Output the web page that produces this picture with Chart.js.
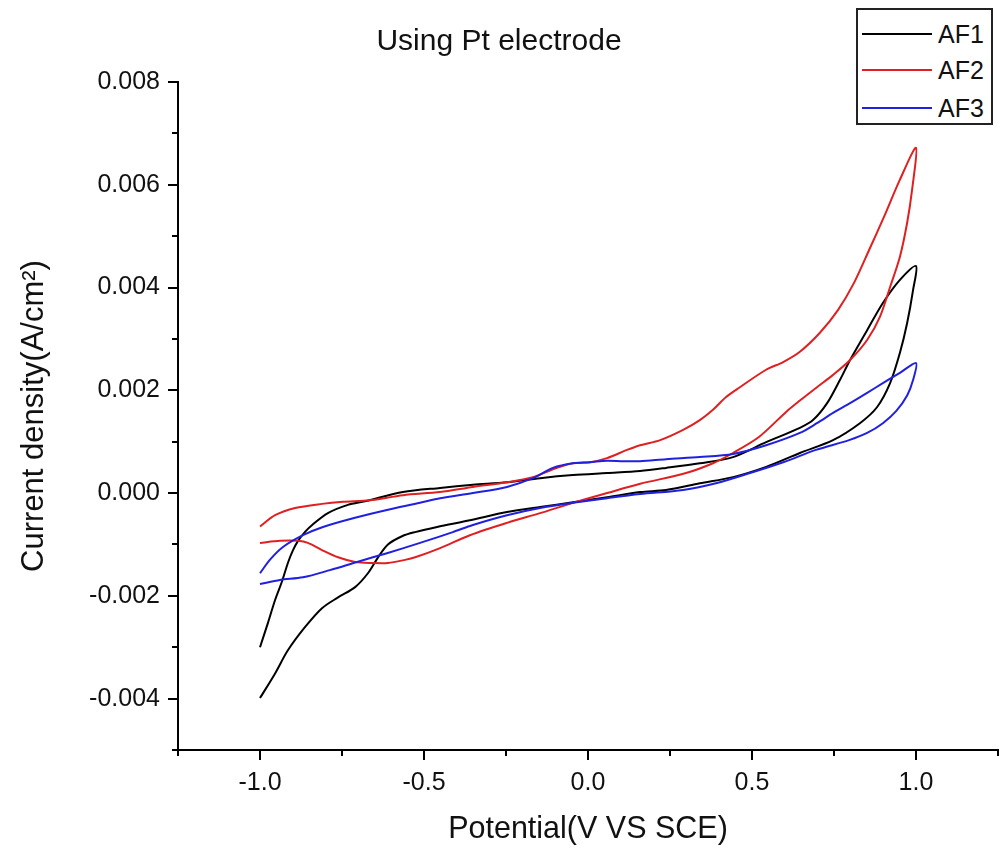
<!DOCTYPE html>
<html>
<head>
<meta charset="utf-8">
<script src="https://cdn.jsdelivr.net/npm/chart.js@4.4.1/dist/chart.umd.min.js"></script>
<style>
  html, body { margin: 0; padding: 0; background: #fff; }
  #wrap { position: relative; width: 999px; height: 848px; }
  #legend { position: absolute; left: 856px; top: 8px; width: 137px; height: 117px; border: 2px solid #222; box-sizing: border-box; background: #fff; font-family: "Liberation Sans", Arial, sans-serif; font-size: 25px; color: #111; }
  .item { position: absolute; left: 0; height: 30px; width: 135px; }
  .item .ln { position: absolute; left: 4px; top: 14px; width: 70px; height: 2px; }
  .item .tx { position: absolute; left: 80px; top: 0; line-height: 30px; }
</style>
</head>
<body>
<div id="wrap">
  <canvas id="c" width="999" height="848"></canvas>
  <div id="legend"></div>
</div>
<script>
// ---- Data (potential in V vs SCE, current density in A/cm^2) ----
const seriesNames = ["AF1", "AF2", "AF3"];
const seriesColors = ["#000000", "#e02020", "#2020e0"];

const af1X = [-1.0, -0.954, -0.915, -0.863, -0.811, -0.762, -0.710, -0.671, -0.640, -0.610, -0.567, -0.527, -0.460, -0.360, -0.247, -0.146, -0.046, 0.058, 0.159, 0.238, 0.341, 0.442, 0.543, 0.646, 0.747, 0.829, 0.881, 0.921, 0.951, 0.973, 0.991, 1.0,
              0.951, 0.899, 0.851, 0.799, 0.768, 0.729, 0.686, 0.646, 0.543, 0.442, 0.341, 0.238, 0.159, 0.058, -0.046, -0.146, -0.247, -0.351, -0.451, -0.564, -0.680, -0.732, -0.793, -0.841, -0.862, -0.884, -0.900, -0.915, -0.933, -0.954, -0.976, -1.0];
const af1Y = [-0.00399, -0.00351, -0.00306, -0.00261, -0.00224, -0.00203, -0.00183, -0.00156, -0.00125, -0.00100, -0.00084, -0.00076, -0.00066, -0.00053, -0.00037, -0.00027, -0.00018, -0.00008, 0.00002, 0.00006, 0.00019, 0.00031, 0.00051, 0.00078, 0.00103, 0.00136, 0.00167, 0.00214, 0.00273, 0.00331, 0.00395, 0.00442,
              0.00415, 0.00370, 0.00317, 0.00259, 0.00220, 0.00175, 0.00142, 0.00127, 0.00099, 0.00070, 0.00058, 0.00049, 0.00043, 0.00039, 0.00035, 0.00029, 0.00021, 0.00016, 0.00010, 0.00002, -0.00016, -0.00023, -0.00039, -0.00062, -0.00075, -0.00093, -0.00112, -0.00136, -0.00172, -0.00208, -0.00253, -0.00300];

const af2X = [-1.0, -0.939, -0.884, -0.854, -0.811, -0.762, -0.710, -0.659, -0.610, -0.558, -0.527, -0.451, -0.360, -0.247, -0.146, -0.046, 0.058, 0.159, 0.299, 0.381, 0.442, 0.521, 0.604, 0.646, 0.698, 0.747, 0.799, 0.851, 0.890, 0.921, 0.951, 0.973, 0.988, 1.0,
              0.951, 0.902, 0.857, 0.811, 0.762, 0.707, 0.646, 0.595, 0.543, 0.463, 0.421, 0.381, 0.341, 0.290, 0.220, 0.159, 0.119, 0.058, 0.006, -0.046, -0.095, -0.168, -0.247, -0.351, -0.451, -0.564, -0.665, -0.747, -0.811, -0.893, -0.954, -1.0];
const af2Y = [-0.00097, -0.00093, -0.00093, -0.00097, -0.00111, -0.00125, -0.00134, -0.00136, -0.00136, -0.00130, -0.00125, -0.00107, -0.00082, -0.00058, -0.00039, -0.00019, 0.00000, 0.00018, 0.00039, 0.00058, 0.00078, 0.00109, 0.00158, 0.00180, 0.00206, 0.00230, 0.00259, 0.00298, 0.00343, 0.00401, 0.00460, 0.00526, 0.00590, 0.00672,
              0.00610, 0.00537, 0.00473, 0.00409, 0.00356, 0.00312, 0.00275, 0.00255, 0.00240, 0.00206, 0.00187, 0.00162, 0.00142, 0.00123, 0.00103, 0.00093, 0.00084, 0.00068, 0.00060, 0.00058, 0.00049, 0.00031, 0.00021, 0.00012, 0.00002, -0.00004, -0.00014, -0.00017, -0.00021, -0.00029, -0.00043, -0.00065];

const af3X = [-1.0, -0.939, -0.869, -0.787, -0.704, -0.613, -0.512, -0.412, -0.351, -0.247, -0.146, -0.046, 0.058, 0.159, 0.290, 0.390, 0.494, 0.595, 0.695, 0.796, 0.851, 0.899, 0.940, 0.973, 0.991, 1.0,
              0.951, 0.899, 0.851, 0.799, 0.747, 0.698, 0.646, 0.543, 0.442, 0.341, 0.238, 0.159, 0.107, 0.058, 0.006, -0.046, -0.107, -0.168, -0.247, -0.351, -0.451, -0.512, -0.613, -0.716, -0.808, -0.869, -0.930, -0.970, -1.0];
const af3Y = [-0.00177, -0.00169, -0.00164, -0.00150, -0.00134, -0.00117, -0.00097, -0.00076, -0.00062, -0.00043, -0.00029, -0.00019, -0.00010, -0.00002, 0.00006, 0.00019, 0.00039, 0.00060, 0.00084, 0.00103, 0.00117, 0.00136, 0.00160, 0.00190, 0.00220, 0.00253,
              0.00234, 0.00214, 0.00195, 0.00175, 0.00156, 0.00136, 0.00117, 0.00093, 0.00076, 0.00070, 0.00066, 0.00062, 0.00062, 0.00063, 0.00060, 0.00058, 0.00049, 0.00029, 0.00012, 0.00000, -0.00010, -0.00019, -0.00033, -0.00049, -0.00066, -0.00082, -0.00105, -0.00130, -0.00156];

// ---- Axis ticks ----
const xMajorTicks = [-1.0, -0.5, 0.0, 0.5, 1.0];
const xMinorTicks = [-1.25, -0.75, -0.25, 0.25, 0.75, 1.25];
const yMajorTicks = [-0.004, -0.002, 0.000, 0.002, 0.004, 0.006, 0.008];
const yMinorTicks = [-0.005, -0.003, -0.001, 0.001, 0.003, 0.005, 0.007];

const titleText = "Using Pt electrode";
const xTitle = "Potential(V VS SCE)";
const yTitle = "Current density(A/cm²)";

const FONT = "'Liberation Sans', Arial, sans-serif";
const xs = [af1X, af2X, af3X];
const ys = [af1Y, af2Y, af3Y];

const datasets = seriesNames.map((name, i) => ({
  label: name,
  data: xs[i].map((x, j) => ({ x: x, y: ys[i][j] })),
  showLine: true,
  borderColor: seriesColors[i],
  backgroundColor: seriesColors[i],
  borderWidth: 2,
  pointRadius: 0,
  tension: 0.3,
  fill: false,
  order: 3 - i
}));

const minorTicks = {
  id: 'minorTicks',
  afterDraw(chart) {
    const ctx = chart.ctx;
    const sx = chart.scales.x, sy = chart.scales.y;
    const area = chart.chartArea;
    ctx.save();
    ctx.strokeStyle = '#000';
    ctx.lineWidth = 2;
    ctx.beginPath();
    xMinorTicks.forEach(v => {
      const p = Math.round(sx.getPixelForValue(v));
      ctx.moveTo(p, area.bottom);
      ctx.lineTo(p, area.bottom + 6);
    });
    yMinorTicks.forEach(v => {
      const p = Math.round(sy.getPixelForValue(v));
      ctx.moveTo(area.left - 6, p);
      ctx.lineTo(area.left, p);
    });
    ctx.stroke();
    ctx.restore();
  }
};

new Chart(document.getElementById('c'), {
  type: 'scatter',
  data: { datasets },
  options: {
    responsive: false,
    animation: false,
    devicePixelRatio: 1,
    layout: { padding: { left: 0, right: 1, top: 0, bottom: 0 } },
    plugins: {
      legend: { display: false },
      tooltip: { enabled: false },
      title: {
        display: true, text: titleText, color: '#111',
        font: { family: FONT, size: 30, weight: 'normal' },
        padding: { top: 24, bottom: 22 }
      }
    },
    scales: {
      x: {
        type: 'linear', min: -1.25, max: 1.25,
        afterFit(s) { s.height = 98; },
        afterBuildTicks(s) { s.ticks = xMajorTicks.map(v => ({ value: v })); },
        ticks: { callback: v => Number(v).toFixed(1), color: '#111', font: { family: FONT, size: 25 }, padding: 8, maxRotation: 0, autoSkip: false },
        grid: { drawOnChartArea: false, drawTicks: true, tickLength: 10, color: '#000', lineWidth: 2 },
        border: { display: true, color: '#000', width: 2 },
        title: { display: true, text: xTitle, color: '#111', font: { family: FONT, size: 30.5 }, padding: { top: 0, bottom: 0 } }
      },
      y: {
        type: 'linear', min: -0.005, max: 0.008,
        afterFit(s) { s.width = 178; },
        afterBuildTicks(s) { s.ticks = yMajorTicks.map(v => ({ value: v })); },
        ticks: { callback: v => Number(v).toFixed(3), color: '#111', font: { family: FONT, size: 25 }, padding: 8, autoSkip: false },
        grid: { drawOnChartArea: false, drawTicks: true, tickLength: 10, color: '#000', lineWidth: 2 },
        border: { display: true, color: '#000', width: 2 },
        title: { display: true, text: yTitle, color: '#111', font: { family: FONT, size: 31 }, padding: { top: 16, bottom: 0 } }
      }
    }
  },
  plugins: [minorTicks]
});

// HTML legend built from the series lists
const legend = document.getElementById('legend');
const rowTops = [9, 45, 83];
seriesNames.forEach((name, i) => {
  const it = document.createElement('div');
  it.className = 'item';
  it.style.top = rowTops[i] + 'px';
  const ln = document.createElement('div');
  ln.className = 'ln';
  ln.style.background = seriesColors[i];
  const tx = document.createElement('div');
  tx.className = 'tx';
  tx.textContent = name;
  it.appendChild(ln); it.appendChild(tx);
  legend.appendChild(it);
});
</script>
</body>
</html>
